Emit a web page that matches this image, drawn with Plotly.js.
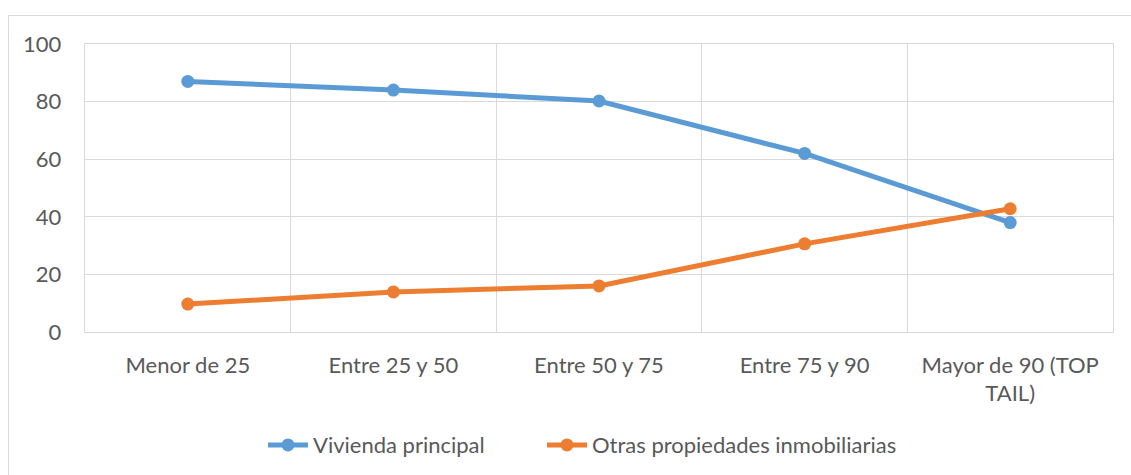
<!DOCTYPE html>
<html><head><meta charset="utf-8">
<script src="https://cdn.plot.ly/plotly-3.0.1.min.js"></script>
<style>
html,body{margin:0;padding:0;background:#fff;}
#wrap{position:relative;width:1131px;height:475px;overflow:hidden;}
#frame{position:absolute;left:8px;top:15px;width:1140px;height:480px;border:1.5px solid #d9d9d9;box-sizing:border-box;pointer-events:none;z-index:2;}
#chart{position:absolute;left:0;top:0;width:1131px;height:475px;}
</style></head>
<body><div id="wrap"><div id="chart"></div><div id="frame"></div></div>
<script>
const categories = ["Menor de 25", "Entre 25 y 50", "Entre 50 y 75", "Entre 75 y 90", "Mayor de 90 (TOP<br>TAIL)"];
const viviendaPrincipal = [87, 84, 80.2, 62, 38];
const otrasPropiedades = [9.7, 13.9, 16, 30.6, 42.8];
const yTicks = [0, 20, 40, 60, 80, 100];

const font = "Lato, Liberation Sans, sans-serif";
const traces = [
  {x: categories, y: viviendaPrincipal, name: "Vivienda principal", type: "scatter", mode: "lines+markers",
   line: {color: "#5B9BD5", width: 5}, marker: {color: "#5B9BD5", size: 13}, legend: "legend"},
  {x: categories, y: otrasPropiedades, name: "Otras propiedades inmobiliarias", type: "scatter", mode: "lines+markers",
   line: {color: "#ED7D31", width: 5}, marker: {color: "#ED7D31", size: 13}, legend: "legend2"}
];
const legendBase = {orientation: "h", xref: "container", yref: "container", xanchor: "left", yanchor: "middle",
  y: 0.063, font: {family: font, size: 22, color: "#595959"}, itemwidth: 40, bgcolor: "rgba(0,0,0,0)"};
const layout = {
  width: 1131, height: 475,
  margin: {l: 85, r: 18, t: 44, b: 143},
  paper_bgcolor: "#fff", plot_bgcolor: "#fff",
  font: {family: font, size: 22, color: "#595959"},
  showlegend: true,
  legend: Object.assign({}, legendBase, {x: 263 / 1131}),
  legend2: Object.assign({}, legendBase, {x: 542 / 1131}),
  xaxis: {type: "category", range: [-0.5, 4.5], tickson: "boundaries", ticks: "",
          showgrid: true, gridcolor: "#d9d9d9", gridwidth: 1.3,
          showline: true, linecolor: "#d9d9d9", linewidth: 1.3, mirror: true,
          ticklabelstandoff: 13, fixedrange: true, zeroline: false},
  yaxis: {range: [0, 100], tickvals: yTicks, ticks: "",
          showgrid: true, gridcolor: "#d9d9d9", gridwidth: 1.3,
          showline: true, linecolor: "#d9d9d9", linewidth: 1.3, mirror: true,
          ticklabelstandoff: 18, zeroline: false, fixedrange: true}
};
Plotly.newPlot("chart", traces, layout, {displayModeBar: false, staticPlot: true});
</script></body></html>
